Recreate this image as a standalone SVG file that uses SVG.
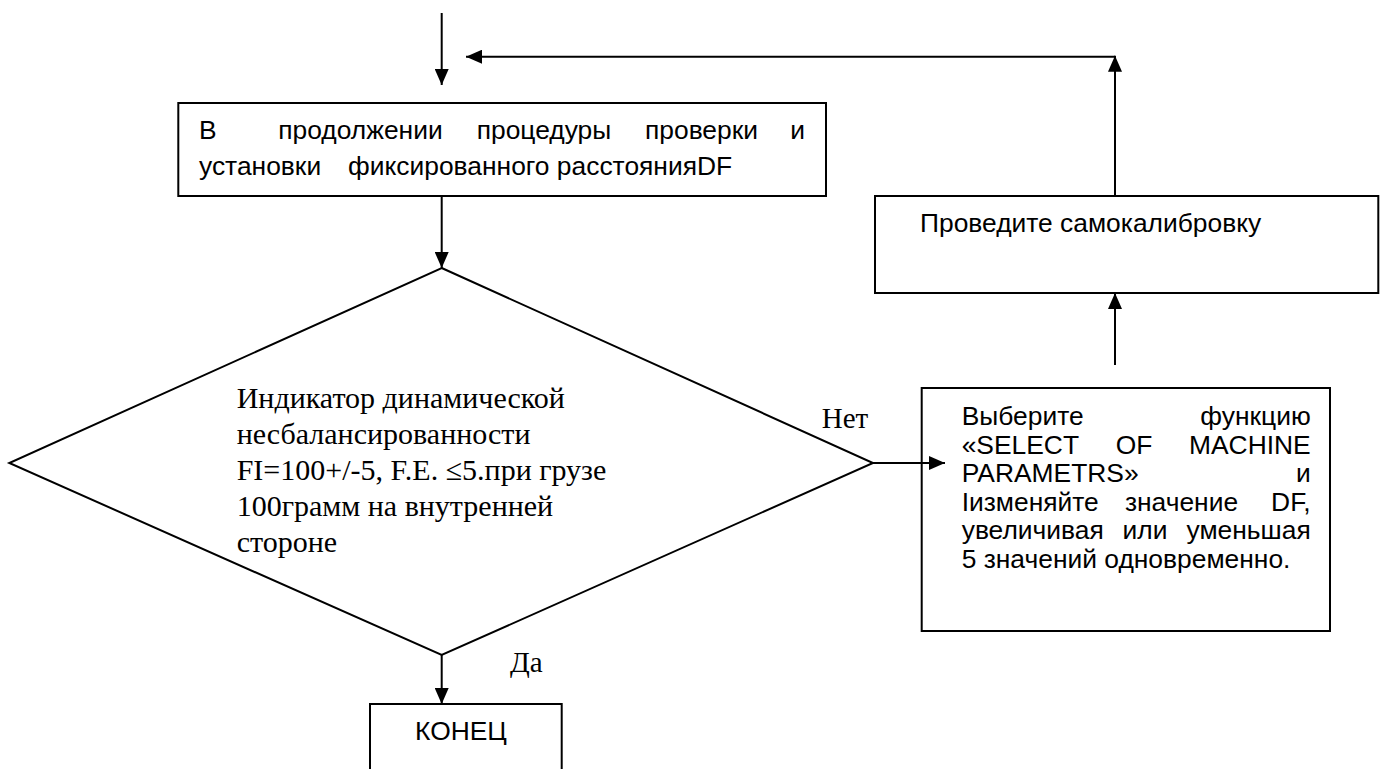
<svg xmlns="http://www.w3.org/2000/svg" width="1386" height="769" viewBox="0 0 1386 769">
<defs>
<marker id="ah" markerWidth="16" markerHeight="14" refX="16" refY="7" orient="auto" markerUnits="userSpaceOnUse">
<path d="M0,0 L16,7 L0,14 Z" fill="#000"/>
</marker>
<style>
.box{fill:#fff;stroke:#000;stroke-width:2}
.ln{fill:none;stroke:#000;stroke-width:2}
.sans{font-family:"Liberation Sans",Arial,sans-serif;font-size:26.4px;fill:#000}
.serif{font-family:"Liberation Serif","Times New Roman",serif;font-size:30px;fill:#000}
.lbl{font-family:"Liberation Serif","Times New Roman",serif;font-size:29px;fill:#000}
</style>
</defs>
<rect width="1386" height="769" fill="#fff"/>
<g id="start">
<rect class="box" x="178.3" y="103" width="647.7" height="93"/>
<text class="sans" y="139"><tspan x="199">В</tspan><tspan x="278.3">продолжении</tspan><tspan x="476.7">процедуры</tspan><tspan x="645">проверки</tspan><tspan x="805" text-anchor="end">и</tspan></text>
<text class="sans" y="175"><tspan x="199">установки</tspan><tspan x="348">фиксированного расстоянияDF</tspan></text>
</g>
<g id="decision">
<polygon class="box" points="441.7,268 873,463 441.7,655 9.3,463"/>
<text class="serif"><tspan x="236.7" y="408">Индикатор динамической</tspan><tspan x="236.7" y="444">несбалансированности</tspan><tspan x="236.7" y="480">FI=100+/-5, F.E. ≤5.при грузе</tspan><tspan x="236.7" y="516">100грамм на внутренней</tspan><tspan x="236.7" y="552">стороне</tspan></text>
</g>
<g id="calibrate">
<rect class="box" x="875" y="196" width="503.3" height="97"/>
<text class="sans" x="920" y="232.3">Проведите самокалибровку</text>
</g>
<g id="select">
<rect class="box" x="921.7" y="388" width="408.3" height="243"/>
<text class="sans" y="425"><tspan x="961.7">Выберите</tspan><tspan x="1310.7" text-anchor="end">функцию</tspan></text>
<text class="sans" y="453.5"><tspan x="961.7">«SELECT</tspan><tspan x="1134" text-anchor="middle">OF</tspan><tspan x="1310.7" text-anchor="end">MACHINE</tspan></text>
<text class="sans" y="482"><tspan x="961.7">PARAMETRS»</tspan><tspan x="1310.7" text-anchor="end">и</tspan></text>
<text class="sans" y="510.5"><tspan x="961.7">Iизменяйте</tspan><tspan x="1181.5" text-anchor="middle">значение</tspan><tspan x="1310.7" text-anchor="end">DF,</tspan></text>
<text class="sans" y="539"><tspan x="961.7">увеличивая</tspan><tspan x="1145" text-anchor="middle">или</tspan><tspan x="1310.7" text-anchor="end">уменьшая</tspan></text>
<text class="sans" x="961.7" y="567.5">5 значений одновременно.</text>
</g>
<g id="end">
<rect class="box" x="370" y="704" width="191.7" height="90"/>
<text class="sans" x="461" y="740" text-anchor="middle">КОНЕЦ</text>
</g>
<g id="connectors">
<line class="ln" x1="441.7" y1="13" x2="441.7" y2="85" marker-end="url(#ah)"/>
<line class="ln" x1="1115" y1="365" x2="1115" y2="293" marker-end="url(#ah)"/>
<line class="ln" x1="1115" y1="196" x2="1115" y2="55.7" marker-end="url(#ah)"/>
<line class="ln" x1="1115" y1="56.7" x2="466" y2="56.7" marker-end="url(#ah)"/>
<line class="ln" x1="441.7" y1="196" x2="441.7" y2="268" marker-end="url(#ah)"/>
<line class="ln" x1="873" y1="463" x2="945" y2="463" marker-end="url(#ah)"/>
<line class="ln" x1="441.7" y1="655" x2="441.7" y2="704" marker-end="url(#ah)"/>
<text class="lbl" x="821.7" y="428">Нет</text>
<text class="lbl" x="510" y="671.7">Да</text>
</g>
</svg>
